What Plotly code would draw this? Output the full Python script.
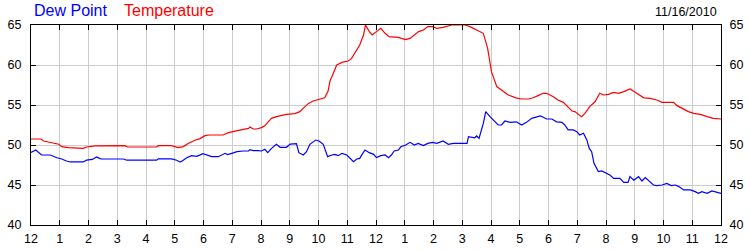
import pandas as pd
import plotly.graph_objects as go

# Hours after midnight, 11/16/2010
temp_hours = [0.0, 0.35, 0.43, 0.66, 0.83, 0.97, 1.07, 1.3, 1.82, 1.93, 2.23, 3.27, 3.35, 4.37, 4.43, 4.89,
              5.12, 5.3, 5.47, 5.7, 5.88, 6.05, 6.2, 6.69, 6.86, 7.09, 7.38, 7.56, 7.62, 7.73, 7.85, 8.02,
              8.14, 8.25, 8.37, 8.54, 8.72, 8.89, 9.18, 9.35, 9.47, 9.65, 9.82, 10.0, 10.11, 10.22, 10.34,
              10.4, 10.48, 10.63, 10.81, 11.04, 11.15, 11.33, 11.44, 11.56, 11.64, 11.76, 11.87, 12.02,
              12.16, 12.31, 12.45, 12.78, 13.01, 13.18, 13.35, 13.49, 13.65, 13.8, 13.96, 14.11, 14.34,
              14.63, 15.1, 15.27, 15.5, 15.73, 15.89, 16.02, 16.2, 16.43, 16.6, 16.86, 17.07, 17.3, 17.47,
              17.64, 17.82, 17.93, 18.16, 18.34, 18.51, 18.67, 18.81, 18.92, 19.09, 19.15, 19.27, 19.44,
              19.62, 19.79, 19.91, 20.08, 20.26, 20.43, 20.61, 20.84, 21.02, 21.19, 21.31, 21.54, 21.77,
              21.95, 22.35, 22.47, 22.7, 22.87, 23.05, 23.28, 23.51, 23.74, 24.0]
temperature = [50.75, 50.75, 50.5, 50.33, 50.2, 50.1, 49.8, 49.67, 49.58, 49.75, 49.9, 49.92, 49.75, 49.75,
               49.92, 49.92, 49.67, 49.8, 50.2, 50.6, 50.8, 51.17, 51.25, 51.25, 51.54, 51.75, 51.96, 52.08,
               52.25, 52.0, 52.0, 52.17, 52.4, 52.9, 53.33, 53.54, 53.67, 53.83, 53.92, 54.17, 54.58, 55.2,
               55.5, 55.7, 55.75, 55.9, 56.75, 58.0, 58.7, 60.0, 60.33, 60.5, 60.83, 61.88, 62.5, 63.75,
               65.0, 64.17, 63.75, 64.17, 64.58, 63.96, 63.54, 63.46, 63.17, 63.33, 63.75, 64.17, 64.38,
               64.8, 64.8, 64.58, 64.7, 65.0, 65.0, 64.8, 64.38, 63.96, 62.08, 59.17, 57.3, 56.67, 56.25,
               55.9, 55.75, 55.75, 55.9, 56.17, 56.46, 56.46, 56.04, 55.63, 55.33, 54.8, 54.25, 54.17,
               53.75, 53.54, 53.96, 54.8, 55.4, 56.46, 56.25, 56.33, 56.58, 56.46, 56.67, 57.0, 56.58,
               56.25, 55.9, 55.83, 55.63, 55.33, 55.33, 54.92, 54.5, 54.17, 53.96, 53.83, 53.54, 53.33,
               53.25]

dew_hours = [0.0, 0.16, 0.37, 0.66, 0.9, 1.07, 1.24, 1.36, 1.82, 1.93, 2.13, 2.28, 2.4, 2.46, 3.22, 3.33,
             4.37, 4.43, 4.89, 5.07, 5.18, 5.24, 5.41, 5.59, 5.76, 5.99, 6.28, 6.52, 6.75, 6.84, 6.98,
             7.16, 7.38, 7.56, 7.62, 7.73, 7.9, 8.02, 8.14, 8.23, 8.37, 8.54, 8.66, 8.89, 9.01, 9.24,
             9.32, 9.47, 9.59, 9.7, 9.9, 10.02, 10.17, 10.32, 10.46, 10.57, 10.69, 10.81, 10.98, 11.1,
             11.21, 11.33, 11.44, 11.52, 11.62, 11.76, 11.91, 12.02, 12.17, 12.31, 12.43, 12.54, 12.64,
             12.78, 12.87, 13.03, 13.18, 13.33, 13.47, 13.65, 13.8, 13.96, 14.11, 14.34, 14.52, 14.69,
             15.16, 15.21, 15.44, 15.5, 15.58, 15.73, 15.81, 15.96, 16.14, 16.25, 16.37, 16.49, 16.66,
             16.89, 17.07, 17.24, 17.42, 17.59, 17.71, 17.82, 17.93, 18.11, 18.28, 18.46, 18.57, 18.69,
             18.86, 18.98, 19.09, 19.21, 19.33, 19.41, 19.5, 19.59, 19.73, 19.85, 20.02, 20.14, 20.26,
             20.49, 20.61, 20.76, 20.84, 20.96, 21.13, 21.25, 21.36, 21.48, 21.65, 21.77, 21.95, 22.12,
             22.27, 22.41, 22.53, 22.7, 22.93, 23.1, 23.22, 23.33, 23.51, 23.68, 23.86, 24.0]
dew_point = [49.08, 49.37, 48.75, 48.75, 48.4, 48.25, 48.0, 47.88, 47.88, 48.1, 48.2, 48.5, 48.3, 48.25,
             48.25, 48.1, 48.1, 48.27, 48.27, 48.1, 47.88, 47.95, 48.4, 48.67, 48.58, 48.92, 48.54, 48.54,
             48.96, 48.8, 48.96, 49.17, 49.25, 49.25, 49.42, 49.29, 49.29, 49.25, 49.46, 49.04, 49.58,
             50.08, 49.71, 49.71, 50.12, 50.17, 49.04, 48.75, 49.17, 50.08, 50.62, 50.5, 50.08, 48.54,
             48.75, 48.83, 48.67, 48.96, 48.75, 48.33, 47.92, 48.25, 48.33, 48.83, 49.38, 49.04, 48.83,
             48.42, 48.67, 48.75, 48.42, 48.75, 49.25, 49.38, 49.79, 50.0, 50.33, 50.0, 50.2, 49.92, 50.2,
             50.33, 50.2, 50.5, 50.08, 50.2, 50.2, 51.04, 50.9, 51.13, 50.83, 52.7, 54.17, 53.54, 52.9,
             52.5, 52.5, 53.0, 52.83, 52.9, 52.5, 52.83, 53.33, 53.46, 53.63, 53.46, 53.25, 53.25, 52.9,
             52.83, 52.5, 51.88, 51.88, 51.67, 51.25, 51.46, 50.63, 49.58, 49.17, 47.7, 46.67, 46.75,
             46.46, 46.25, 45.83, 45.83, 45.33, 45.33, 46.04, 45.6, 46.04, 45.5, 45.92, 45.5, 45.0, 44.92,
             45.0, 45.2, 44.92, 45.0, 44.8, 44.38, 44.38, 44.17, 43.96, 44.17, 43.96, 44.25, 44.1, 43.96]

day = "2010-11-16"
date_label = "11/16/2010"
series_names = ["Dew Point", "Temperature"]
y_ticks = [40, 45, 50, 55, 60, 65]

base = pd.Timestamp(day)
def to_time(hours):
    return [base + pd.Timedelta(minutes=round(h * 60)) for h in hours]

BLUE = "#0000FF"
RED = "#FF0000"
FONT = "Liberation Sans, Arial, sans-serif"

fig = go.Figure()
fig.add_trace(go.Scatter(x=to_time(dew_hours), y=dew_point, mode="lines", name=series_names[0],
                         line=dict(color=BLUE, width=1.2)))
fig.add_trace(go.Scatter(x=to_time(temp_hours), y=temperature, mode="lines", name=series_names[1],
                         line=dict(color=RED, width=1.2)))
# invisible trace to carry the right-hand axis
fig.add_trace(go.Scatter(x=[base], y=[y_ticks[0]], yaxis="y2", mode="markers",
                         marker=dict(opacity=0), showlegend=False, hoverinfo="skip"))

fig.update_layout(
    width=750, height=250,
    margin=dict(l=31, r=29, t=25, b=25),
    paper_bgcolor="white", plot_bgcolor="white",
    showlegend=False,
    font=dict(family=FONT, size=12, color="#000000"),
    xaxis=dict(
        type="date",
        range=[base, base + pd.Timedelta(hours=24)],
        tickformat="%-I", dtick=3600000, tick0=base,
        ticks="inside", ticklen=5, tickcolor="black", tickwidth=1,
        showline=True, linecolor="black", linewidth=1, mirror="ticks",
        showgrid=True, gridcolor="#CCCCCC", gridwidth=1,
        tickfont=dict(size=12.5), zeroline=False, fixedrange=True,
        ticklabelstandoff=2, automargin=False,
    ),
    yaxis=dict(
        range=[40, 65], tickvals=y_ticks,
        ticks="inside", ticklen=5, tickcolor="black",
        showline=True, linecolor="black", linewidth=1,
        showgrid=True, gridcolor="#CCCCCC", gridwidth=1,
        zeroline=False, tickfont=dict(size=12.5), ticklabelstandoff=6, automargin=False,
    ),
    yaxis2=dict(
        range=[40, 65], tickvals=y_ticks, overlaying="y", side="right",
        ticks="inside", ticklen=5, tickcolor="black",
        showline=True, linecolor="black", linewidth=1,
        showgrid=False, zeroline=False, tickfont=dict(size=12.5), ticklabelstandoff=5,
        automargin=False,
    ),
    annotations=[
        dict(text=series_names[0], x=(32 - 31) / 690, y=1.07, xref="paper", yref="paper",
             xanchor="left", yanchor="middle", showarrow=False, font=dict(size=16, color=BLUE)),
        dict(text=series_names[1], x=(122 - 31) / 690, y=1.07, xref="paper", yref="paper",
             xanchor="left", yanchor="middle", showarrow=False, font=dict(size=16, color=RED)),
        dict(text=date_label, x=(719 - 31) / 690, y=1.065, xref="paper", yref="paper",
             xanchor="right", yanchor="middle", showarrow=False, font=dict(size=12.5, color="#000000")),
    ],
)

fig.write_html("out.html")
